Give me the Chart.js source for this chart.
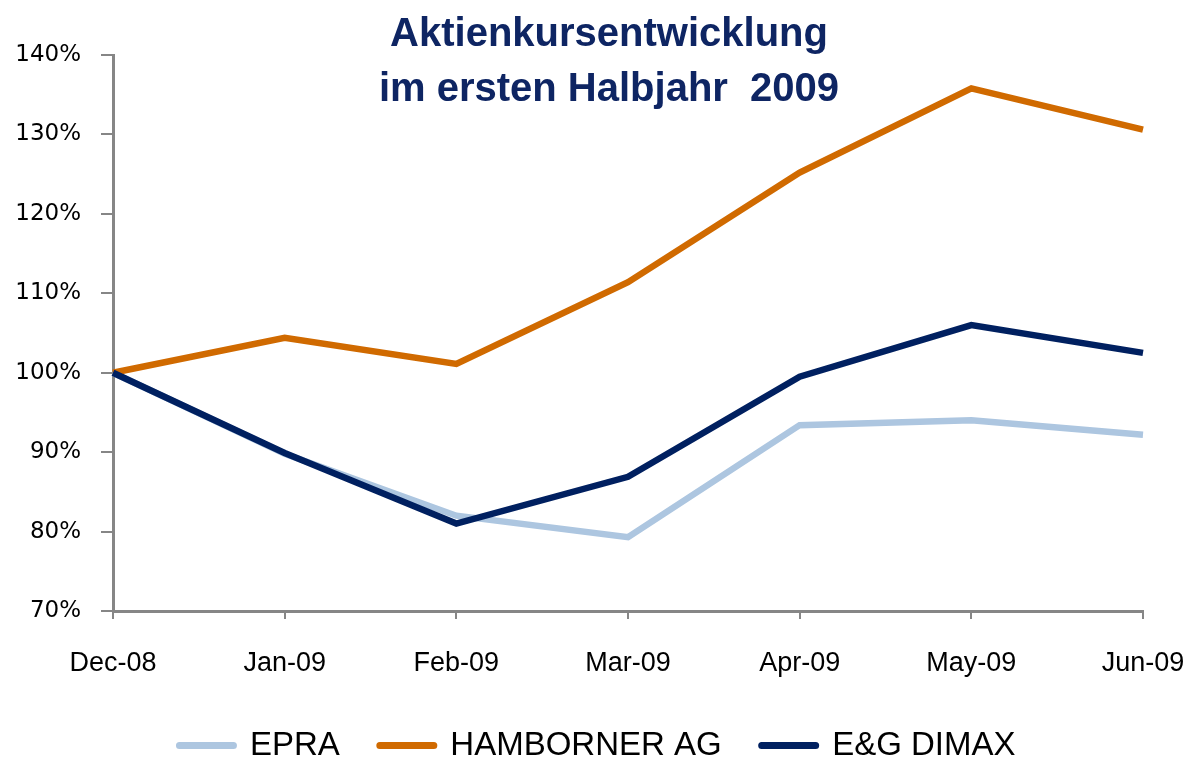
<!DOCTYPE html>
<html>
<head>
<meta charset="utf-8">
<script src="https://cdn.jsdelivr.net/npm/chart.js@4"></script>
<style>
  html, body { margin: 0; padding: 0; background: #ffffff; }
  #wrap { width: 1191px; height: 759px; position: relative; }
</style>
</head>
<body>
<div id="wrap"><canvas id="c" width="1191" height="759"></canvas></div>
<script>
// ---- data ----
const titleLines = ['Aktienkursentwicklung', 'im ersten Halbjahr  2009'];
const categories = ['Dec-08', 'Jan-09', 'Feb-09', 'Mar-09', 'Apr-09', 'May-09', 'Jun-09'];
const seriesNames = ['EPRA', 'HAMBORNER AG', 'E&G DIMAX'];
const epra      = [100, 89.8, 82.0, 79.3, 93.4, 94.0, 92.2];
const hamborner = [100, 104.4, 101.1, 111.4, 125.2, 135.8, 130.6];
const egDimax   = [100, 89.9, 81.0, 86.9, 99.5, 106.0, 102.5];
const yMin = 70, yMax = 140, yStep = 10;

// ---- styles ----
const colors = ['#ADC6E0', '#D06A00', '#002060'];
const axisColor = '#868686';

const titlePlugin = {
  id: 'twoLineTitle',
  afterDraw(chart) {
    const ctx = chart.ctx;
    ctx.save();
    ctx.fillStyle = '#0E2563';
    ctx.font = 'bold 40px "Liberation Sans", Arial, sans-serif';
    ctx.textAlign = 'center';
    ctx.textBaseline = 'alphabetic';
    ctx.fillText(titleLines[0], 609, 46);
    ctx.fillText(titleLines[1], 609, 101);
    ctx.restore();
  }
};

const legendShift = {
  id: 'legendShift',
  afterLayout(chart) {
    if (chart.legend) { chart.legend.left += 2; chart.legend.right += 2; }
  }
};

const datasets = [epra, hamborner, egDimax].map((d, i) => ({
  label: seriesNames[i],
  data: d,
  borderColor: colors[i],
  backgroundColor: colors[i],
  borderWidth: 6.5,
  pointRadius: 0,
  pointHoverRadius: 0,
  tension: 0,
  fill: false,
  borderJoinStyle: 'miter',
  borderCapStyle: 'butt'
}));
datasets[0].order = 3; datasets[1].order = 2; datasets[2].order = 1;

const chart = new Chart(document.getElementById('c'), {
  type: 'line',
  data: { labels: categories, datasets: datasets },
  options: {
    responsive: false,
    animation: false,
    events: [],
    layout: { padding: { left: 0, right: 0, top: 55, bottom: 0 } },
    plugins: {
      title: { display: false },
      tooltip: { enabled: false },
      legend: {
        display: true,
        position: 'bottom',
        align: 'center',
        labels: {
          boxWidth: 54,
          boxHeight: 0,
          padding: 40,
          color: '#000000',
          font: { family: '"Liberation Sans", Arial, sans-serif', size: 33 },
          sort: (a, b) => a.datasetIndex - b.datasetIndex,
          generateLabels(ch) {
            const items = Chart.defaults.plugins.legend.labels.generateLabels(ch);
            items.forEach(it => {
              it.lineWidth = 7;
              it.lineCap = 'round';
              it.lineJoin = 'round';
              it.fillStyle = it.strokeStyle;
            });
            return items;
          }
        }
      }
    },
    scales: {
      x: {
        type: 'category',
        offset: false,
        grid: { display: true, drawOnChartArea: false, drawTicks: true, tickLength: 8, color: axisColor, lineWidth: 2 },
        border: { display: true, color: axisColor, width: 3 },
        ticks: {
          color: '#000000',
          padding: 28,
          maxRotation: 0,
          autoSkip: false,
          font: { family: '"Liberation Sans", Arial, sans-serif', size: 27 }
        },
        afterFit(scale) { scale.height = 78; scale.paddingRight = 48; scale.paddingLeft = 0; }
      },
      y: {
        min: yMin,
        max: yMax,
        grid: { display: true, drawOnChartArea: false, drawTicks: true, tickLength: 12, color: axisColor, lineWidth: 2 },
        border: { display: true, color: axisColor, width: 3 },
        ticks: {
          stepSize: yStep,
          color: '#000000',
          padding: 20,
          font: { family: '"DejaVu Sans", sans-serif', size: 23 },
          callback: v => v + '%'
        },
        afterFit(scale) { scale.width = 113; }
      }
    }
  },
  plugins: [titlePlugin, legendShift]
});

const origFit = chart.legend.fit;
chart.legend.fit = function () {
  origFit.call(this);
  this.height = 70;
};
chart.update();
</script>
</body>
</html>
